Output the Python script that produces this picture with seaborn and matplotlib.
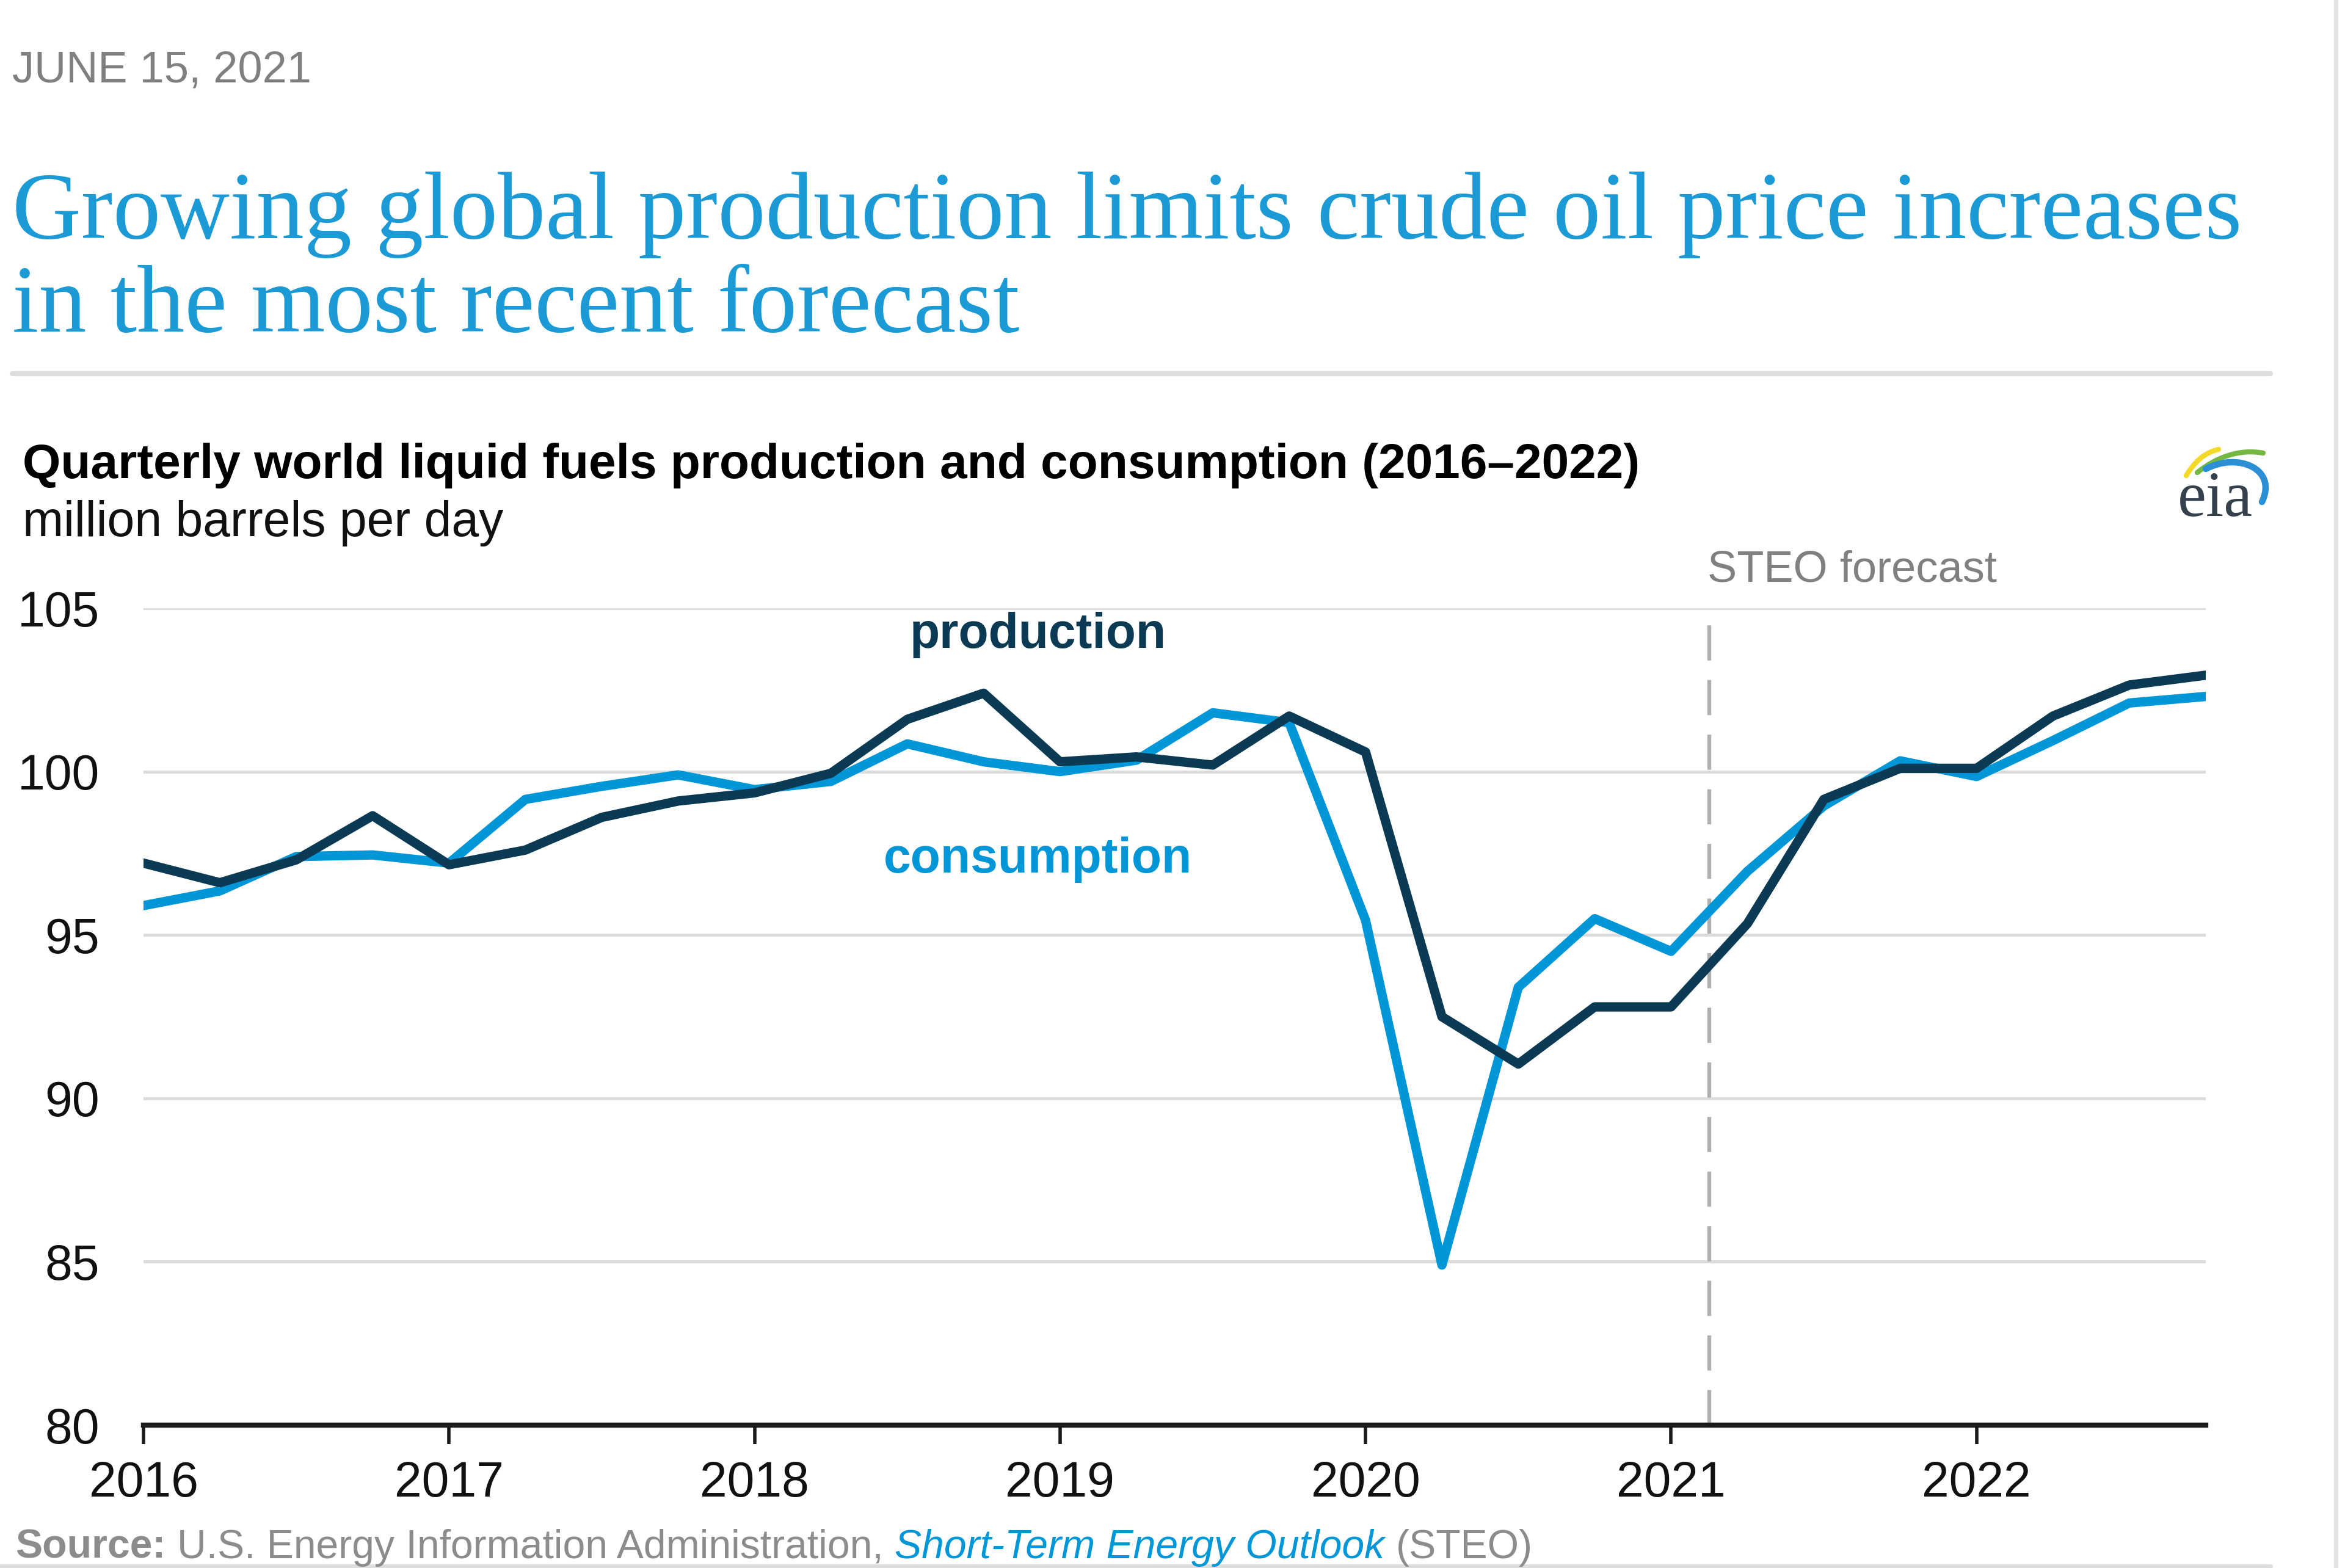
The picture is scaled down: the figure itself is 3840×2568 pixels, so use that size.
import numpy as np
import pandas as pd
import matplotlib
matplotlib.use("Agg")
import matplotlib.pyplot as plt
import seaborn as sns
from matplotlib.lines import Line2D
from matplotlib.patches import PathPatch
from matplotlib.path import Path

# quarterly world liquid fuels, million barrels per day (2016Q1 .. 2022Q4)
quarters = pd.period_range("2016Q1", "2022Q4", freq="Q")
production = [97.2, 96.6, 97.3, 98.65, 97.15, 97.6, 98.6, 99.1,
              99.35, 99.95, 101.6, 102.4, 100.3, 100.45, 100.2, 101.7,
              100.6, 92.5, 91.05, 92.8, 92.8, 95.35, 99.15, 100.1,
              100.1, 101.7, 102.65, 102.95]
consumption = [95.9, 96.35, 97.4, 97.45, 97.2, 99.15, 99.55, 99.9,
               99.45, 99.7, 100.85, 100.3, 100.0, 100.35, 101.8, 101.5,
               95.45, 84.9, 93.4, 95.5, 94.5, 96.95, 98.95, 100.33,
               99.85, 100.95, 102.1, 102.3]
years = [2016, 2017, 2018, 2019, 2020, 2021, 2022]
yticks = [80, 85, 90, 95, 100, 105]
forecast_start = 2021.125

DARK = "#0a3a54"
BLUE = "#0096d7"
GREY = "#808080"

x = quarters.year + (quarters.quarter - 1) / 4
df = pd.concat([
    pd.DataFrame({"x": x, "value": consumption, "series": "consumption"}),
    pd.DataFrame({"x": x, "value": production, "series": "production"}),
])

sns.set_theme(style="white")
plt.rcParams["font.family"] = ["Liberation Sans", "DejaVu Sans"]

fig = plt.figure(figsize=(19.2, 12.84), dpi=200)
ax = fig.add_axes([0.0612, 0.0911, 0.8794, 0.521])

sns.lineplot(data=df, x="x", y="value", hue="series",
             hue_order=["consumption", "production"],
             palette={"consumption": BLUE, "production": DARK},
             linewidth=5.5, legend=False, ax=ax, zorder=3)

ax.axvline(forecast_start, color="#b0b0b0", lw=2.3, dashes=(9, 5), zorder=2)

ax.set_xlim(2016, 2022.75)
ax.set_ylim(80, 105)
ax.set_xticks(years, [str(y) for y in years])
ax.set_yticks(yticks, [str(v) for v in yticks])
ax.set_xlabel("")
ax.set_ylabel("")
ax.yaxis.grid(True, color="#dcdcdc", lw=1.8)
ax.xaxis.grid(False)
ax.set_axisbelow(True)
for side in ["top", "right", "left"]:
    ax.spines[side].set_visible(False)
ax.spines["bottom"].set_color("#1a1a1a")
ax.spines["bottom"].set_linewidth(3)
ax.tick_params(axis="x", length=11, width=2, color="#1a1a1a", pad=10,
               labelsize=29, labelcolor="#111111", bottom=True)
ax.tick_params(axis="y", length=0, pad=26, labelsize=29, labelcolor="#111111")

ax.text(2018.928, 103.79, "production", color=DARK, fontsize=29,
        fontweight="bold", ha="center", va="baseline")
ax.text(2018.928, 96.91, "consumption", color=BLUE, fontsize=29,
        fontweight="bold", ha="center", va="baseline")
ax.text(forecast_start - 0.005, 105.82, "STEO forecast", color=GREY,
        fontsize=26, ha="left", va="baseline", clip_on=False)

# header
fig.text(20 / 3840, 1 - 135 / 2568, "JUNE 15, 2021", color=GREY,
         fontsize=26, va="baseline")
serif = ["Liberation Serif", "DejaVu Serif"]
fig.text(20 / 3840, 1 - 390 / 2568,
         "Growing global production limits crude oil price increases",
         color="#1c9ad6", fontsize=56.3, family=serif, va="baseline")
fig.text(20 / 3840, 1 - 543 / 2568, "in the most recent forecast",
         color="#1c9ad6", fontsize=56.3, family=serif, va="baseline")
fig.add_artist(Line2D([20 / 3840, 3718 / 3840], [1 - 612 / 2568] * 2,
                      color="#dedede", lw=3, transform=fig.transFigure))
fig.text(37 / 3840, 1 - 783 / 2568,
         "Quarterly world liquid fuels production and consumption (2016\u20132022)",
         color="#000000", fontsize=28.9, fontweight="bold", va="baseline")
fig.text(37 / 3840, 1 - 878 / 2568, "million barrels per day",
         color="#111111", fontsize=29, va="baseline")

# page borders
fig.add_artist(Line2D([3825 / 3840] * 2, [0, 1], color="#e3e3e3", lw=2.5,
                      transform=fig.transFigure))
fig.add_artist(Line2D([0, 3718 / 3840], [3 / 2568] * 2, color="#dedede",
                      lw=2.5, transform=fig.transFigure))

# source line, pieces placed one after another
renderer = fig.canvas.get_renderer()
parts = [("Source:", dict(color="#8c8c8c", fontweight="bold")),
         ("U.S. Energy Information Administration,", dict(color="#8c8c8c")),
         ("Short-Term Energy Outlook", dict(color=BLUE, style="italic")),
         ("(STEO)", dict(color="#8c8c8c"))]
xpos = 25 / 3840
src_size = 23.8
gap = 0.28 * src_size * 200 / 72 / fig.bbox.width
for s, kw in parts:
    t = fig.text(xpos, 1 - 2552 / 2568, s, fontsize=src_size, va="baseline", **kw)
    xpos += t.get_window_extent(renderer).width / fig.bbox.width + gap

# eia logo (pixel coordinates of the page, y downwards)
lax = fig.add_axes([3540 / 3840, 1 - 870 / 2568, 200 / 3840, 170 / 2568])
lax.set_xlim(3540, 3740)
lax.set_ylim(870, 700)
lax.axis("off")
curve = [Path.MOVETO, Path.CURVE4, Path.CURVE4, Path.CURVE4]
swooshes = [
    ([(3580, 779), (3593, 757), (3610, 741), (3633, 736)], "#f5d92a", 3),
    ([(3598, 774), (3630, 748), (3668, 735), (3706, 742)], "#74b843", 3),
    ([(3612, 768), (3665, 740), (3730, 768), (3704, 822)], "#2a8fd4", 3.8),
]
for pts, col, lw in swooshes:
    lax.add_patch(PathPatch(Path(pts, curve), fill=False, edgecolor=col,
                            lw=lw, capstyle="round"))
lax.text(3627, 845, "eia", fontsize=38, family=serif, color="#34414d",
         ha="center", va="baseline")

fig.savefig("out.png", dpi=200, facecolor="white")
